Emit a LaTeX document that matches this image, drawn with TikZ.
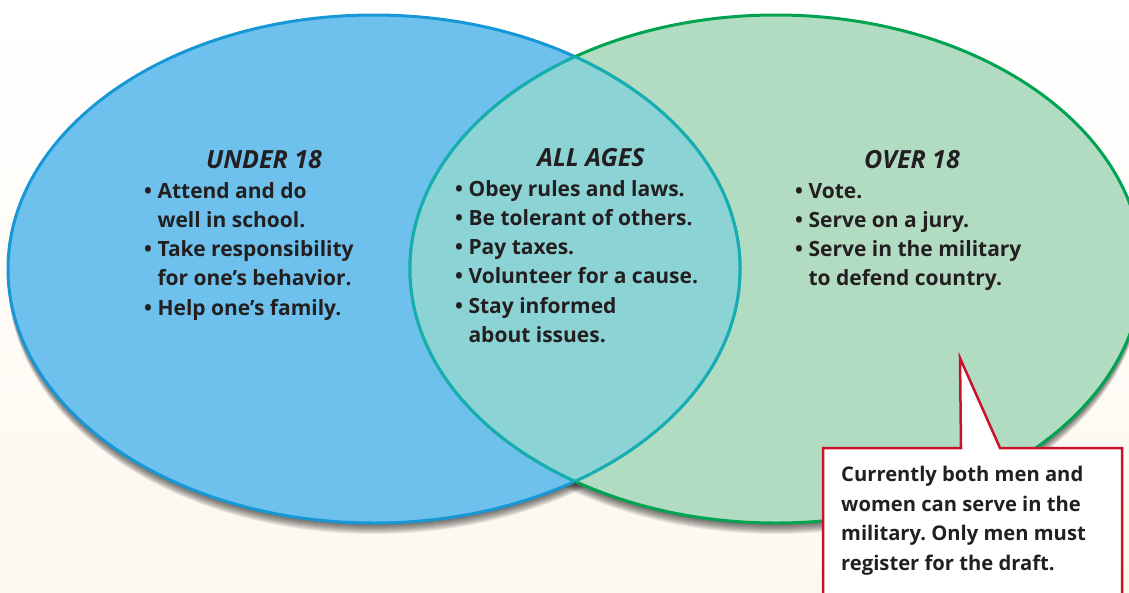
\documentclass[tikz,border=0pt]{standalone}
\usepackage{fontspec}
\setmainfont{Open Sans}
\usepackage{tikz}
\usetikzlibrary{calc,positioning,shapes}

\definecolor{skyfill}{RGB}{110,193,236}
\definecolor{skyline}{RGB}{22,152,214}
\definecolor{mintfill}{RGB}{178,220,194}
\definecolor{mintline}{RGB}{0,164,80}
\definecolor{tealfill}{RGB}{140,211,213}
\definecolor{tealline}{RGB}{22,174,176}
\definecolor{cream}{RGB}{253,248,239}
\definecolor{ink}{RGB}{35,31,32}
\definecolor{boxred}{RGB}{200,18,44}

\frenchspacing

\begin{document}
\begin{tikzpicture}[x=1pt, y=-1pt,
  oval/.style = {x radius=366pt, y radius=254pt},
  rim/.style = {line width=3pt},
  heading/.style = {font=\fontsize{25}{28}\selectfont\bfseries\itshape, text=ink, inner sep=0pt, anchor=base},
  items/.style = {font=\fontsize{21}{29.2}\selectfont\bfseries, text=ink, inner sep=0pt, align=left, anchor=base west}]

\useasboundingbox (0,0) rectangle (1129,592);
\clip (0,0) rectangle (1129,592);
\fill[top color=white, bottom color=cream] (0,0) rectangle (1129,592);

\coordinate (under) at (374,269);
\coordinate (over) at (776,269);

% soft shadow below both ovals
\foreach \k in {1,...,11} {
  \fill[black, opacity=.07] ($(under)+(0,\k)$) ellipse [oval];
  \fill[black, opacity=.07] ($(over)+(0,\k)$) ellipse [oval];
}

% the two sets
\fill[skyfill] (under) ellipse [oval];
\fill[mintfill] (over) ellipse [oval];
\draw[skyline, rim] (under) ellipse [oval];
\draw[mintline, rim] (over) ellipse [oval];

% shared part
\begin{scope}
  \clip (under) ellipse [oval];
  \fill[tealfill] (over) ellipse [oval];
  \draw[tealline, rim] (over) ellipse [oval];
\end{scope}
\begin{scope}
  \clip (over) ellipse [oval];
  \draw[tealline, rim] (under) ellipse [oval];
\end{scope}

% lists: base anchor sits on the last line
\path (264,168.3) node[heading] (underhead) {UNDER 18};
\path (144,315) node[items] (underlist) {• Attend and do\\
\phantom{• }well in school.\\
• Take responsibility\\
\phantom{• }for one’s behavior.\\
• Help one’s family.};

\path (591,166.7) node[heading] (allhead) {ALL AGES};
\path (455,342.3) node[items] (alllist) {• Obey rules and laws.\\
• Be tolerant of others.\\
• Pay taxes.\\
• Volunteer for a cause.\\
• Stay informed\\
\phantom{• }about issues.};

\path (912,168.3) node[heading] (overhead) {OVER 18};
\path (795,285.7) node[items] (overlist) {• Vote.\\
• Serve on a jury.\\
• Serve in the military\\
\phantom{• }to defend country.};

% note box with its pointer
\filldraw[fill=white, draw=boxred, line width=2.5pt, line join=miter]
  (823,610) -- (823,448) -- (961,448) -- (960,358) -- (1000,448) -- (1122,448) -- (1122,610);
\path (841,570) node[items, font=\fontsize{20.2}{29.4}\selectfont\bfseries] (note)
  {Currently both men and\\women can serve in the\\military. Only men must\\register for the draft.};
\end{tikzpicture}
\end{document}
